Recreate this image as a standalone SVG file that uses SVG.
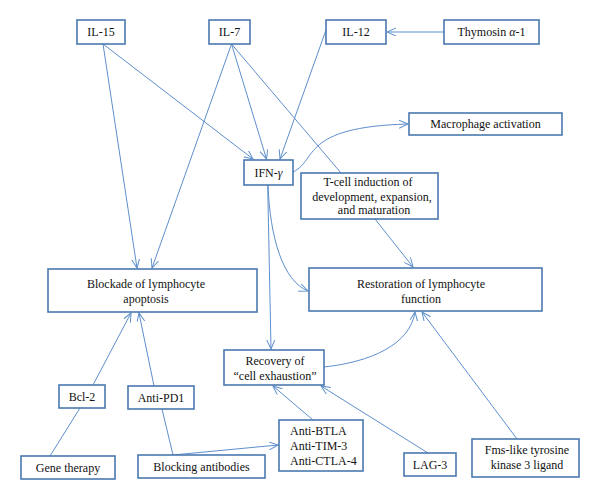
<svg xmlns="http://www.w3.org/2000/svg" width="600" height="500" viewBox="0 0 600 500">
<defs>
<style>
.box{fill:#fff;stroke:#4a78b0;stroke-width:1.6}
.t{font-family:"Liberation Serif","Times New Roman",serif;font-size:12px;fill:#111;text-anchor:middle}
.tl{font-family:"Liberation Serif","Times New Roman",serif;font-size:12px;fill:#111}
.c{fill:none;stroke:#5e8fcc;stroke-width:1}
.a{marker-end:url(#arr)}
</style>
<marker id="arr" markerUnits="userSpaceOnUse" markerWidth="10" markerHeight="10" refX="9" refY="4" orient="auto">
<path d="M0,0 L9,4 L0,8" fill="none" stroke="#5e8fcc" stroke-width="1"/>
</marker>
</defs>
<rect width="600" height="500" fill="#fff"/>
<g id="connectors">
<path class="c a" d="M444,32 L387,32"/>
<path class="c a" d="M326,30 L280,159"/>
<path class="c a" d="M103,44 L253,159"/>
<path class="c a" d="M103,44 L137,268"/>
<path class="c a" d="M231.5,44 L152,268"/>
<path class="c a" d="M231.5,44 L266.5,159"/>
<path class="c" d="M231.5,44 L341,173"/>
<path class="c a" d="M293,172 C318,160 300,127 408,124"/>
<path class="c a" d="M375,219 L413,267"/>
<path class="c a" d="M268,185 C270,238 283,281 308,291"/>
<path class="c a" d="M267.7,185 L271,349"/>
<path class="c a" d="M324,367 C370,362 410,345 415,312"/>
<path class="c a" d="M517,439 L422,312"/>
<path class="c a" d="M93,385 L131,313"/>
<path class="c a" d="M154,386 L139,313"/>
<path class="c" d="M80,408 L50,456"/>
<path class="c" d="M162,409 L173,455"/>
<path class="c a" d="M173,455 L278,445"/>
<path class="c a" d="M313,420 L273,386"/>
<path class="c a" d="M428,453 L321,386"/>
</g>
<g id="il15"><rect class="box" x="77" y="20" width="48" height="24"/><text class="t" x="101" y="36">IL-15</text></g>
<g id="il7"><rect class="box" x="209" y="20" width="41" height="24"/><text class="t" x="229.5" y="36">IL-7</text></g>
<g id="il12"><rect class="box" x="326" y="20" width="60" height="24"/><text class="t" x="356" y="36">IL-12</text></g>
<g id="thymosin"><rect class="box" x="444" y="20" width="95" height="24"/><text class="t" x="491.5" y="36">Thymosin <tspan font-style="italic">α</tspan>-1</text></g>
<g id="macrophage"><rect class="box" x="409" y="113" width="153" height="22"/><text class="t" x="485.5" y="128">Macrophage activation</text></g>
<g id="ifn"><rect class="box" x="244" y="160" width="49" height="25"/><text class="t" x="268.5" y="177">IFN-<tspan font-style="italic">γ</tspan></text></g>
<g id="tcell"><rect class="box" x="301" y="173" width="137" height="46"/>
<text class="t" x="368" y="186">T-cell induction of</text>
<text class="t" x="372" y="200.5">development, expansion,</text>
<text class="t" x="374" y="214">and maturation</text></g>
<g id="blockade"><rect class="box" x="48" y="269" width="209" height="43"/>
<text class="t" x="146" y="288">Blockade of lymphocyte</text>
<text class="t" x="146" y="302.5">apoptosis</text></g>
<g id="restoration"><rect class="box" x="309" y="268" width="233" height="43"/>
<text class="t" x="421" y="287.5">Restoration of lymphocyte</text>
<text class="t" x="421" y="303">function</text></g>
<g id="recovery"><rect class="box" x="224" y="350" width="100" height="35"/>
<text class="t" x="275" y="364.5">Recovery of</text>
<text class="t" x="275" y="379.5">“cell exhaustion”</text></g>
<g id="bcl2"><rect class="box" x="59" y="385" width="46" height="23"/><text class="t" x="82" y="400.5">Bcl-2</text></g>
<g id="antipd1"><rect class="box" x="128" y="386" width="66" height="23"/><text class="t" x="161" y="401.5">Anti-PD1</text></g>
<g id="gene"><rect class="box" x="21" y="456" width="94" height="23"/><text class="t" x="68" y="471.5">Gene therapy</text></g>
<g id="blocking"><rect class="box" x="138" y="455" width="127" height="23"/><text class="t" x="201.5" y="470.5">Blocking antibodies</text></g>
<g id="antibtla"><rect class="box" x="279" y="420" width="84" height="51"/>
<text class="tl" x="290" y="435">Anti-BTLA</text>
<text class="tl" x="290" y="450">Anti-TIM-3</text>
<text class="tl" x="290" y="465">Anti-CTLA-4</text></g>
<g id="lag3"><rect class="box" x="404" y="453" width="52" height="23"/><text class="t" x="430" y="468.5">LAG-3</text></g>
<g id="fms"><rect class="box" x="472" y="439" width="107" height="38"/>
<text class="t" x="527" y="453.5">Fms-like tyrosine</text>
<text class="t" x="527" y="469">kinase 3 ligand</text></g>
</svg>
